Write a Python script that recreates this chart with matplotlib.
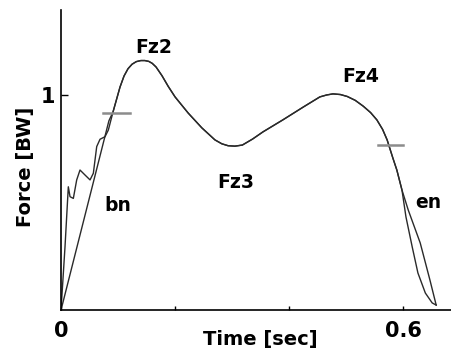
import numpy as np
import matplotlib.pyplot as plt

# shared middle part of both force curves (time in s, force in BW)
mid_t = [0.0912, 0.1035, 0.1105, 0.1175, 0.1246, 0.132, 0.140, 0.147,
         0.154, 0.160, 0.1667, 0.177, 0.188, 0.200, 0.223, 0.247, 0.270,
         0.282, 0.293, 0.305, 0.318, 0.336, 0.354, 0.389, 0.425, 0.454,
         0.466, 0.477, 0.490, 0.502, 0.516, 0.530, 0.543, 0.554, 0.564,
         0.572, 0.582, 0.589, 0.598]
mid_f = [0.921, 1.037, 1.088, 1.122, 1.143, 1.155, 1.160, 1.160,
         1.156, 1.147, 1.130, 1.090, 1.040, 0.991, 0.916, 0.847, 0.791,
         0.773, 0.764, 0.762, 0.767, 0.795, 0.828, 0.884, 0.944, 0.991,
         1.000, 1.005, 1.002, 0.993, 0.975, 0.948, 0.918, 0.884, 0.840,
         0.791, 0.707, 0.651, 0.558]

# curve A: straight loading and unloading
a_start_t = [0.0, 0.084]
a_start_f = [0.0, 0.880]
a_end_t = [0.609, 0.630, 0.647, 0.658]
a_end_f = [0.465, 0.312, 0.140, 0.023]

# curve B: oscillating heel strike, curved toe-off
b_start_t = [0.0, 0.007, 0.0128, 0.0158, 0.0216, 0.0275, 0.0333, 0.042,
             0.0509, 0.0567, 0.0626, 0.0684, 0.0772, 0.083]
b_start_f = [0.0, 0.294, 0.573, 0.527, 0.519, 0.605, 0.651, 0.628,
             0.605, 0.636, 0.760, 0.794, 0.806, 0.837]
b_end_t = [0.605, 0.616, 0.626, 0.639, 0.651, 0.658]
b_end_f = [0.433, 0.293, 0.172, 0.079, 0.033, 0.023]

# bn / en threshold marks
marks_t = [(0.074, 0.121), (0.556, 0.600)]
marks_f = [0.916, 0.767]

labels = ["Fz2", "Fz3", "Fz4", "bn", "en"]
label_t = [0.163, 0.307, 0.526, 0.100, 0.644]
label_f = [1.223, 0.591, 1.084, 0.488, 0.498]

fig = plt.figure(figsize=(4.51, 3.49), dpi=100)
ax = fig.add_axes([0.1353, 0.1117, 0.8647, 0.8596])

ta = a_start_t + mid_t + a_end_t
fa = a_start_f + mid_f + a_end_f
tb = b_start_t + mid_t + b_end_t
fb = b_start_f + mid_f + b_end_f
ax.plot(ta, fa, color="#2a2a2a", linewidth=1.0)
ax.plot(tb, fb, color="#2a2a2a", linewidth=1.0)

for (t0, t1), f in zip(marks_t, marks_f):
    ax.plot([t0, t1], [f, f], color="#8c8c8c", linewidth=1.8)

for s, t, f in zip(labels, label_t, label_f):
    ax.text(t, f, s, fontsize=13.5, fontweight="bold", ha="center", va="center")

ax.set_xlim(0, 0.684)
ax.set_ylim(0, 1.395)
ax.set_xticks([0, 0.2, 0.4, 0.6])
ax.set_xticklabels(["0", "", "", "0.6"])
ax.set_yticks([1])
ax.set_yticklabels(["1"])
ax.tick_params(axis="x", direction="in", length=3, width=1, pad=8, labelsize=15)
ax.tick_params(axis="y", direction="in", length=5, width=1, pad=4, labelsize=15)
for lbl in ax.get_xticklabels() + ax.get_yticklabels():
    lbl.set_fontweight("bold")

ax.spines["top"].set_visible(False)
ax.spines["right"].set_visible(False)
ax.spines["left"].set_linewidth(1.2)
ax.spines["bottom"].set_linewidth(1.2)

ax.set_xlabel("Time [sec]", fontsize=14, fontweight="bold")
ax.xaxis.set_label_coords(0.51, -0.067)
ax.set_ylabel("Force [BW]", fontsize=14, fontweight="bold")
ax.yaxis.set_label_coords(-0.066, 0.477)

fig.savefig("out.png", dpi=100)
